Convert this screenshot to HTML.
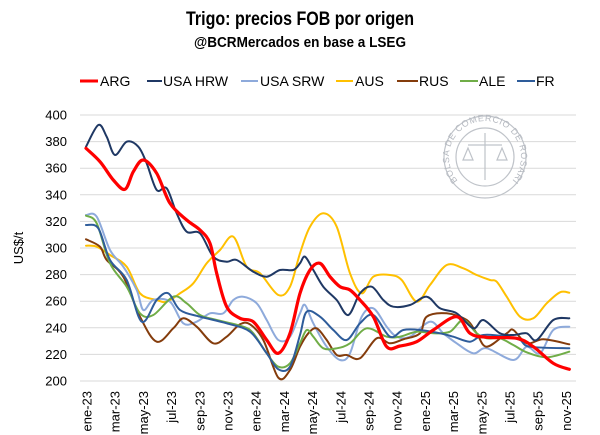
<!DOCTYPE html>
<html><head><meta charset="utf-8"><style>
html,body{margin:0;padding:0;background:#fff;}
svg{display:block;font-family:"Liberation Sans",sans-serif;}
</style></head><body>
<svg id="s" width="600" height="435" viewBox="0 0 600 435">
<defs><path id="arc" d="M459 182 A36 36 0 1 1 511 182" fill="none"/></defs>
<rect width="600" height="435" fill="#fff"/>
<text x="300" y="25" text-anchor="middle" font-size="19" font-weight="bold" textLength="228" lengthAdjust="spacingAndGlyphs">Trigo: precios FOB por origen</text>
<text x="300" y="47" text-anchor="middle" font-size="14.5" font-weight="bold" textLength="212" lengthAdjust="spacingAndGlyphs">@BCRMercados en base a LSEG</text>
<g font-size="14" fill="#000">
<line x1="80" y1="81" x2="98" y2="81" stroke="#ff0000" stroke-width="3"/><text x="100" y="86">ARG</text>
<line x1="147" y1="81" x2="162" y2="81" stroke="#1f3864" stroke-width="2"/><text x="163" y="86">USA HRW</text>
<line x1="241" y1="81" x2="258" y2="81" stroke="#8eaadb" stroke-width="2"/><text x="260" y="86">USA SRW</text>
<line x1="336" y1="81" x2="353" y2="81" stroke="#ffc000" stroke-width="2"/><text x="355" y="86">AUS</text>
<line x1="397" y1="81" x2="418" y2="81" stroke="#843c0c" stroke-width="2"/><text x="419" y="86">RUS</text>
<line x1="460" y1="81" x2="478" y2="81" stroke="#70ad47" stroke-width="2"/><text x="479" y="86">ALE</text>
<line x1="517" y1="81" x2="535" y2="81" stroke="#2e5c9a" stroke-width="2"/><text x="536" y="86">FR</text>
</g>
<g id="grid" stroke="#d9d9d9" stroke-width="1"></g>
<g id="ylab" font-size="13" text-anchor="end" fill="#000"></g>
<text transform="translate(23,248) rotate(-90)" text-anchor="middle" font-size="13">US$/t</text>
<g fill="none" stroke="#bfc3c9" stroke-width="1.2">
<circle cx="485" cy="157" r="41"/><circle cx="485" cy="157" r="29"/>
<line x1="485" y1="133" x2="485" y2="180"/><line x1="468" y1="145" x2="502" y2="145"/>
<path d="M463 160 l5 -12 l5 12 z M497 160 l5 -12 l5 12 z"/>
</g>
<text font-size="9" fill="#b5b9c0" letter-spacing="0.6"><textPath href="#arc" startOffset="1%">BOLSA DE COMERCIO DE ROSARIO</textPath></text>
<g id="xlab" font-size="13" fill="#000"></g>
<g id="lines" fill="none" stroke-linejoin="round" stroke-linecap="round"></g>
</svg>
<script>
var NS="http://www.w3.org/2000/svg";
function el(t,a,p,txt){var e=document.createElementNS(NS,t);for(var k in a)e.setAttribute(k,a[k]);if(txt)e.textContent=txt;document.getElementById(p).appendChild(e);}
for(var v=200;v<=400;v+=20){var y=115+(400-v)*1.33;el("line",{x1:80,x2:576,y1:y,y2:y},"grid");el("text",{x:67,y:y+4.5},"ylab",""+v);}
var ml=["ene-23","mar-23","may-23","jul-23","sep-23","nov-23","ene-24","mar-24","may-24","jul-24","sep-24","nov-24","ene-25","mar-25","may-25","jul-25","sep-25","nov-25"];
for(var i=0;i<ml.length;i++){var x=87+i*28.2;el("text",{transform:"translate("+(x+4.5)+",391) rotate(-90)","text-anchor":"end"},"xlab",ml[i]);}
function path(a,b){var p=[];a.forEach(function(q){p.push([q[0]/3,100+q[1]/3]);});b.forEach(function(q){if(q[0]/3+300>p[p.length-1][0]+1)p.push([300+q[0]/3,100+q[1]/3]);});
var d="M"+p[0][0].toFixed(1)+" "+p[0][1].toFixed(1);
for(var i=0;i<p.length-1;i++){var p0=p[Math.max(0,i-1)],p1=p[i],p2=p[i+1],p3=p[Math.min(p.length-1,i+2)];
d+=" C"+(p1[0]+(p2[0]-p0[0])/6).toFixed(1)+" "+(p1[1]+(p2[1]-p0[1])/6).toFixed(1)+" "+(p2[0]-(p3[0]-p1[0])/6).toFixed(1)+" "+(p2[1]-(p3[1]-p1[1])/6).toFixed(1)+" "+p2[0].toFixed(1)+" "+p2[1].toFixed(1);}
return d;}
var S=[
["#ffc000",2,[[258,437],[290,440],[330,465],[380,500],[420,580],[470,600],[500,605],[540,580],[580,550],[620,490],[660,450],[700,410],[740,500],[780,520],[835,585],[870,560],[900,460]],[[30,380],[70,340],[110,380],[150,520],[185,580],[220,530],[270,525],[305,540],[350,605],[390,555],[440,495],[490,505],[530,525],[570,540],[590,545],[620,590],[660,650],[700,655],[740,610],[780,577],[808,578]]],
["#8eaadb",2,[[258,345],[290,350],[330,450],[370,500],[410,570],[430,630],[460,600],[510,605],[550,670],[590,665],[630,640],[670,640],[700,600],[730,590],[770,610],[800,660],[835,720],[870,710],[900,640]],[[15,615],[40,670],[80,740],[120,780],[150,760],[185,650],[220,625],[260,680],[290,710],[330,710],[390,665],[430,700],[470,730],[520,760],[560,745],[640,780],[680,740],[720,760],[760,690],[808,680]]],
["#843c0c",2,[[258,418],[300,440],[320,480],[370,530],[420,650],[470,725],[520,685],[550,655],[590,680],[640,730],[680,710],[720,673],[750,673],[790,720],[835,833],[870,810],[900,740]],[[25,700],[50,685],[80,720],[110,765],[140,765],[180,775],[230,715],[270,730],[310,718],[360,700],[380,650],[440,640],[500,660],[530,700],[560,740],[620,700],[640,690],[680,730],[730,718],[808,733]]],
["#70ad47",2,[[258,347],[290,370],[330,490],[380,560],[420,640],[460,645],[520,590],[560,610],[600,645],[650,660],[730,680],[760,700],[800,760],[835,800],[870,790],[900,730]],[[20,690],[40,710],[70,745],[110,745],[150,730],[200,685],[260,710],[300,710],[350,695],[400,700],[450,695],[490,660],[530,700],[560,715],[600,715],[640,735],[680,757],[740,772],[808,755]]],
["#2e5c9a",2,[[258,375],[295,385],[330,480],[380,540],[425,665],[470,600],[505,580],[540,630],[600,650],[680,670],[750,695],[800,760],[835,808],[870,800],[900,705]],[[20,635],[60,650],[100,690],[140,720],[180,670],[220,645],[270,710],[310,690],[360,690],[420,700],[460,710],[510,725],[550,705],[620,710],[660,720],[690,740],[808,745]]],
["#1f3864",2,[[258,140],[295,75],[320,110],[345,165],[380,125],[415,140],[440,190],[470,270],[500,265],[530,340],[560,395],[600,400],[640,470],[680,485],[710,480],[760,515],[800,530],[840,510],[880,510],[900,490]],[[15,470],[40,510],[70,560],[110,600],[145,645],[180,580],[215,560],[250,600],[280,620],[330,615],[380,590],[420,625],[470,640],[520,685],[550,660],[600,700],[640,705],[680,700],[710,720],[760,660],[808,655]]],
["#ff0000",3.2,[[258,145],[300,185],[340,240],[375,268],[400,215],[430,180],[470,220],[510,310],[560,360],[600,390],[630,430],[650,520],[680,620],[720,655],[760,665],[800,720],[835,760],[870,700],[900,580]],[[30,510],[60,490],[90,530],[120,560],[150,570],[180,600],[220,650],[260,740],[300,738],[350,725],[400,690],[470,650],[510,700],[560,712],[650,715],[700,740],[760,790],[808,808]]]
];
S.forEach(function(s){el("path",{d:path(s[2],s[3]),stroke:s[0],"stroke-width":s[1]},"lines");});
</script>
</body></html>
